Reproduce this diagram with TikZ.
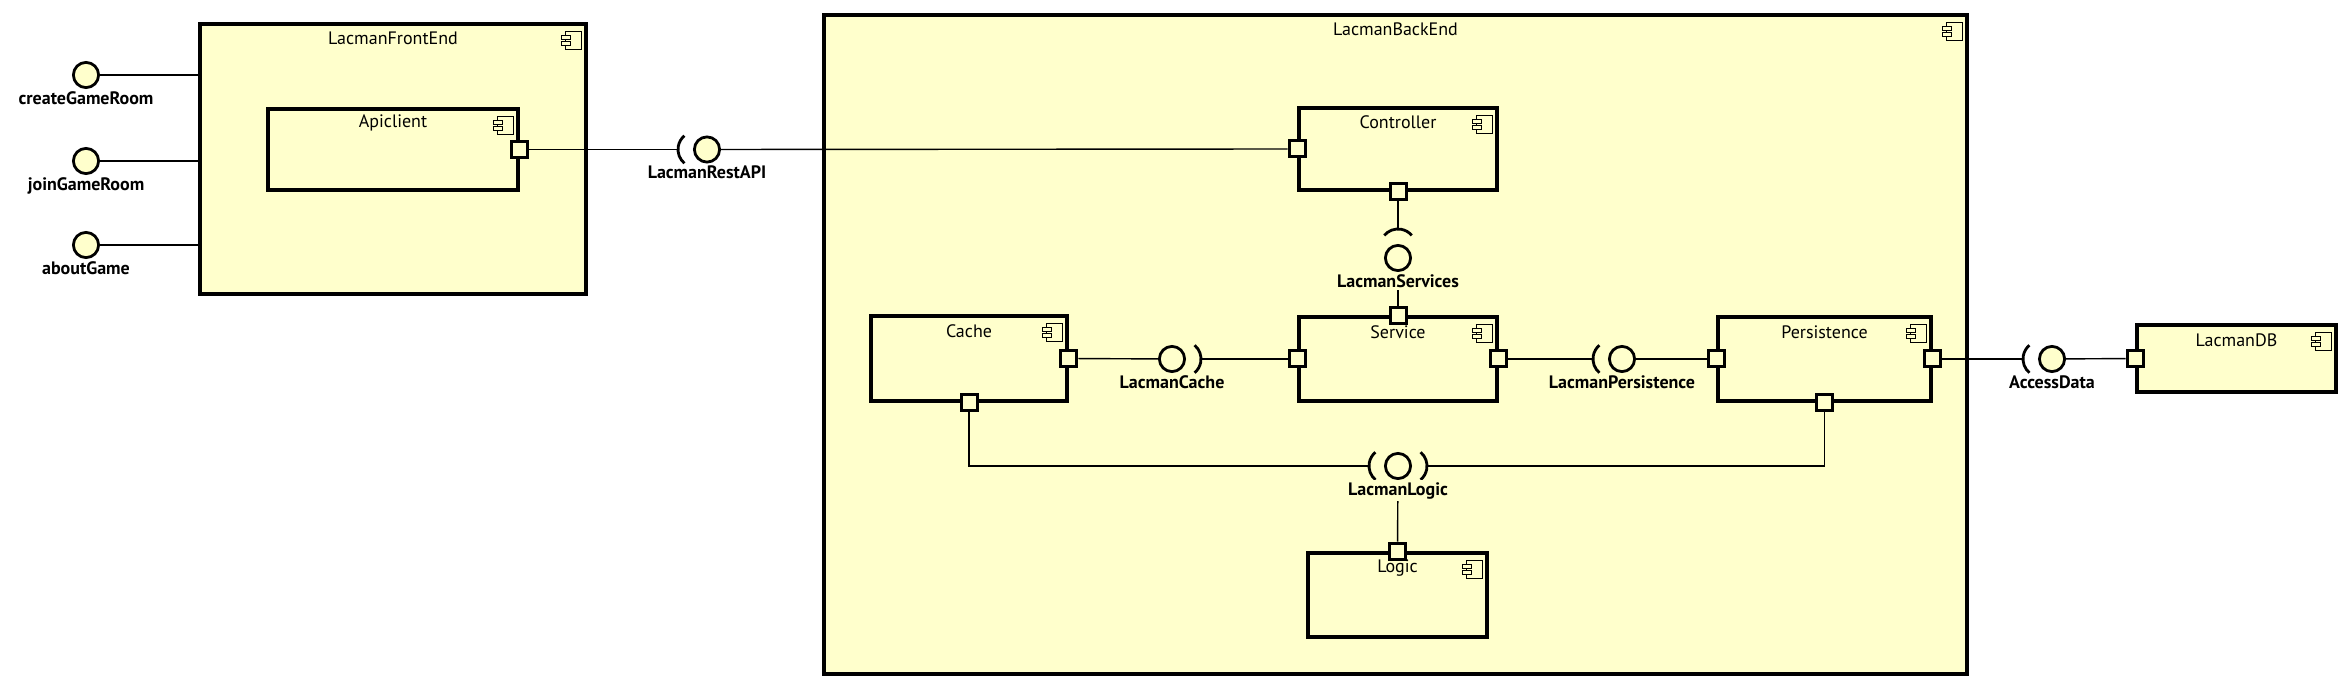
\documentclass[tikz,border=0pt]{standalone}
\usepackage{fontspec}
\setmainfont{PT Sans}
\usetikzlibrary{calc}
\definecolor{umlfill}{HTML}{FFFFCC}

\tikzset{
  comp/.style={draw, line width=1.8pt, fill=umlfill, inner sep=0pt},
  port/.style={draw, line width=1.5pt, fill=umlfill, minimum size=8pt, inner sep=0pt},
  ball/.style={circle, draw, line width=1.4pt, fill=umlfill, minimum size=12.6pt, inner sep=0pt},
  socket/.style={line width=1.4pt},
  link/.style={line width=0.7pt},
  comptitle/.style={inner sep=0pt, font=\fontsize{9}{11}\selectfont},
  iflabel/.style={anchor=north, inner sep=1pt, font=\fontsize{9}{11}\selectfont\bfseries},
}

% component icon in the upper right corner of a box
\newcommand{\compicon}[1]{%
  \draw[line width=0.5pt, fill=umlfill] ($(#1.north east)+(-22,9)$) rectangle ($(#1.north east)+(-6,27)$);
  \draw[line width=0.5pt, fill=umlfill] ($(#1.north east)+(-26,13)$) rectangle ($(#1.north east)+(-17,17.5)$);
  \draw[line width=0.5pt, fill=umlfill] ($(#1.north east)+(-26,19)$) rectangle ($(#1.north east)+(-17,23.5)$);
}
% socket arc next to a ball: #1 ball, #2 side angle, #3 name of its tip
\newcommand{\socketarc}[3]{%
  \draw[socket] ($(#1)+(#2:11)$) ++(#2-50:18) arc[start angle=#2-50, end angle=#2+50, radius=18];
  \coordinate (#3) at ($(#1)+(#2:29)$);
}

\begin{document}
\begin{tikzpicture}[x=0.5pt,y=0.5pt,yscale=-1,xscale=1]
\useasboundingbox (0,0) rectangle (2350,689);

% Components
\node[comp, minimum width=193pt, minimum height=135pt] (front) at (393,159) {};
\node[comp, minimum width=125pt, minimum height=40.5pt] (api) at (393,149.5) {};
\node[comp, minimum width=571.5pt, minimum height=329.5pt] (back) at (1395.5,344.5) {};
\node[comp, minimum width=99pt, minimum height=41pt] (ctrl) at (1398,149) {};
\node[comp, minimum width=99pt, minimum height=42pt] (serv) at (1398,359) {};
\node[comp, minimum width=98pt, minimum height=42.5pt] (cache) at (969,358.5) {};
\node[comp, minimum width=106.5pt, minimum height=42pt] (pers) at (1824.5,359) {};
\node[comp, minimum width=89.5pt, minimum height=42pt] (logic) at (1397.5,595) {};
\node[comp, minimum width=99.5pt, minimum height=33.5pt] (db) at (2236.5,358.5) {};

% Titles
\node[comptitle] at ($(front.north)+(0,16)$) {LacmanFrontEnd};
\node[comptitle] at ($(api.north)+(0,16)$) {Apiclient};
\node[comptitle] at ($(back.north)+(0,16)$) {LacmanBackEnd};
\node[comptitle] at ($(ctrl.north)+(0,16)$) {Controller};
\node[comptitle] at ($(serv.north)+(0,17)$) {Service};
\node[comptitle] at ($(cache.north)+(0,17)$) {Cache};
\node[comptitle] at ($(pers.north)+(0,17)$) {Persistence};
\node[comptitle] at ($(logic.north)+(0,17)$) {Logic};
\node[comptitle] at ($(db.north)+(0,17)$) {LacmanDB};

% Icons
\compicon{front}
\compicon{api}
\compicon{back}
\compicon{ctrl}
\compicon{serv}
\compicon{cache}
\compicon{pers}
\compicon{logic}
\compicon{db}

% Ports
\node[port] (apiR) at (api.east) {};
\node[port] (ctrlL) at (ctrl.west) {};
\node[port] (ctrlB) at (ctrl.south) {};
\node[port] (servL) at (serv.west) {};
\node[port] (servR) at (serv.east) {};
\node[port] (servT) at (serv.north) {};
\node[port] (cacheR) at (cache.east) {};
\node[port] (cacheB) at (cache.south) {};
\node[port] (persL) at (pers.west) {};
\node[port] (persR) at (pers.east) {};
\node[port] (persB) at (pers.south) {};
\node[port] (logicT) at (logic.north) {};
\node[port] (dbL) at (db.west) {};

% Interfaces
\node[ball] (create) at (86,75) {};
\node[ball] (join) at (86,161) {};
\node[ball] (about) at (86,245) {};
\node[ball] (rest) at (707,149.5) {};
\node[ball] (services) at (1398,258) {};
\node[ball] (cacheif) at (1172,359) {};
\node[ball] (persif) at (1622,359) {};
\node[ball] (access) at (2052,359) {};
\node[ball] (logicif) at (1398,466) {};

\socketarc{rest}{180}{restS}
\socketarc{services}{270}{servicesS}
\socketarc{cacheif}{0}{cacheS}
\socketarc{persif}{180}{persS}
\socketarc{access}{180}{accessS}
\socketarc{logicif}{180}{logicSL}
\socketarc{logicif}{0}{logicSR}

% Connections
\draw[link] (create) -- (create -| front.west);
\draw[link] (join) -- (join -| front.west);
\draw[link] (about) -- (about -| front.west);
\draw[link] (apiR) -- (restS);
\draw[link] (rest) -- (ctrlL);
\draw[link] (ctrlB) -- (servicesS);
\draw[link] (services) -- (servT);
\draw[link] (cacheR) -- (cacheif);
\draw[link] (cacheS) -- (servL);
\draw[link] (servR) -- (persS);
\draw[link] (persif) -- (persL);
\draw[link] (persR) -- (accessS);
\draw[link] (access) -- (dbL);
\draw[link] (cacheB) |- (logicSL);
\draw[link] (persB) |- (logicSR);
\draw[link] (logicif) -- (logicT);

% Labels
\node[iflabel] at (create.south) {createGameRoom};
\node[iflabel] at (join.south) {joinGameRoom};
\node[iflabel] at (about.south) {aboutGame};
\node[iflabel] at (rest.south) {LacmanRestAPI};
\node[iflabel, fill=umlfill] at (services.south) {LacmanServices};
\node[iflabel] at (cacheif.south) {LacmanCache};
\node[iflabel] at (persif.south) {LacmanPersistence};
\node[iflabel] at (access.south) {AccessData};
\node[iflabel, fill=umlfill] at (logicif.south) {LacmanLogic};

\end{tikzpicture}
\end{document}
